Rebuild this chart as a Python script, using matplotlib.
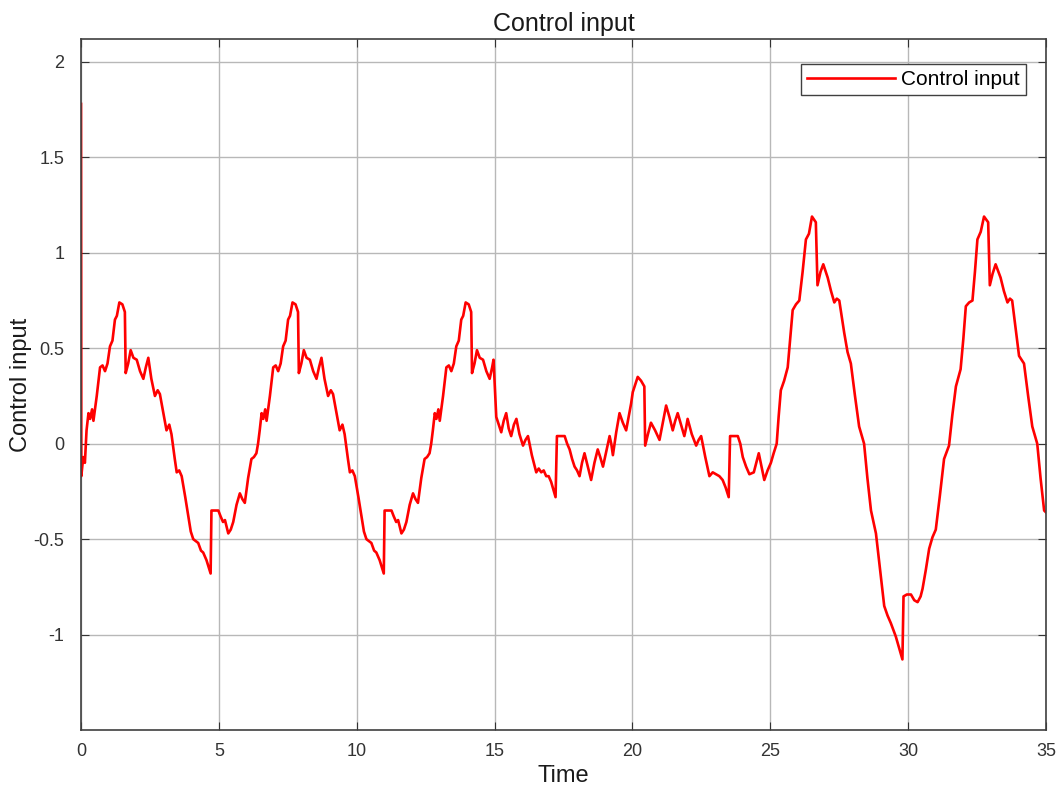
#!/usr/bin/env python3

from matplotlib import pyplot as plt

plt.rcParams['font.family'] = ['Liberation Sans', 'DejaVu Sans']

# Time samples.
t = [
    0.00, 0.01, 0.08, 0.14, 0.20, 0.27, 0.33, 0.40, 0.45, 0.57, 0.69, 0.78,
    0.87, 0.96, 1.05, 1.14, 1.23, 1.30, 1.39, 1.50, 1.59, 1.62, 1.71, 1.80,
    1.90, 2.02, 2.14, 2.26, 2.35, 2.44, 2.55, 2.68, 2.78, 2.86, 3.00, 3.10,
    3.20, 3.28, 3.40, 3.47, 3.56, 3.65, 3.78, 3.89, 3.98, 4.07, 4.16, 4.25,
    4.35, 4.43, 4.55, 4.70, 4.73, 4.85, 4.98, 5.06, 5.15, 5.22, 5.34, 5.43,
    5.52, 5.64, 5.76, 5.85, 5.94, 6.06, 6.18, 6.27,
    6.36, 6.42, 6.48, 6.55, 6.61, 6.68, 6.73, 6.85, 6.97, 7.06, 7.15, 7.24,
    7.33, 7.42, 7.51, 7.58, 7.67, 7.78, 7.87, 7.90, 7.99, 8.08, 8.18, 8.30,
    8.42, 8.54, 8.63, 8.72, 8.83, 8.96, 9.06, 9.14, 9.28, 9.38, 9.48, 9.56,
    9.68, 9.75, 9.84, 9.93, 10.06, 10.17, 10.26, 10.35, 10.44, 10.53, 10.63,
    10.71, 10.83, 10.98, 11.01, 11.13, 11.26, 11.34, 11.43, 11.50, 11.62,
    11.71, 11.80, 11.92, 12.04, 12.13, 12.22, 12.34, 12.46, 12.55,
    12.64, 12.70, 12.76, 12.83, 12.89, 12.96, 13.01, 13.13, 13.25, 13.34,
    13.43, 13.52, 13.61, 13.70, 13.79, 13.86, 13.95, 14.06, 14.15, 14.18,
    14.27, 14.36, 14.46, 14.58, 14.70, 14.82, 14.91, 14.96,
    15.06, 15.15, 15.24, 15.33, 15.42, 15.51, 15.60, 15.70, 15.79, 15.90,
    16.03, 16.12, 16.21, 16.35, 16.51, 16.60, 16.69, 16.78, 16.87, 16.96,
    17.05, 17.21, 17.26, 17.40, 17.54, 17.63, 17.72, 17.81, 17.90, 17.99,
    18.08, 18.17, 18.26, 18.38, 18.50, 18.62, 18.74, 18.83, 18.93, 19.05,
    19.17, 19.23, 19.29, 19.41, 19.53, 19.65, 19.77, 19.86, 19.95, 20.01,
    20.10, 20.19, 20.31, 20.43, 20.46, 20.56, 20.67, 20.82, 20.98, 21.10,
    21.22, 21.34, 21.46, 21.55, 21.64, 21.76, 21.88, 21.94, 22.00, 22.15,
    22.31, 22.40, 22.49, 22.64, 22.79, 22.91, 23.03, 23.15, 23.27, 23.38,
    23.49, 23.54, 23.68, 23.82, 23.91, 24.00, 24.12, 24.24, 24.40, 24.58,
    24.68, 24.78, 24.90, 25.02, 25.12, 25.23,
    25.30, 25.38, 25.50, 25.63, 25.72, 25.81, 25.93, 26.05, 26.17, 26.29,
    26.40, 26.51, 26.65, 26.71, 26.82, 26.92, 27.08, 27.20, 27.32, 27.41,
    27.50, 27.68, 27.80, 27.92, 28.07, 28.22, 28.40, 28.52, 28.65, 28.83,
    28.98, 29.13, 29.25, 29.37, 29.55, 29.67, 29.79, 29.83, 29.95, 30.10,
    30.22, 30.34, 30.45, 30.52, 30.64, 30.76, 30.88, 31.00, 31.15, 31.30,
    31.48, 31.60, 31.73, 31.90, 32.00, 32.09, 32.21, 32.33, 32.42, 32.51,
    32.63, 32.75, 32.90, 32.96, 33.06, 33.17, 33.35, 33.47, 33.60, 33.69,
    33.77, 33.90, 34.02, 34.20, 34.35, 34.50, 34.68, 34.80, 34.93, 35.00,
]

# Control input values at those times.
u = [
    1.78, -0.17, -0.07, -0.10, 0.07, 0.16, 0.13, 0.18, 0.12, 0.25, 0.40, 0.41,
    0.38, 0.42, 0.51, 0.54, 0.65, 0.67, 0.74, 0.73, 0.69, 0.37, 0.42, 0.49,
    0.45, 0.44, 0.38, 0.34, 0.40, 0.45, 0.34, 0.25, 0.28, 0.26, 0.15, 0.07,
    0.10, 0.05, -0.08, -0.15, -0.14, -0.17, -0.28, -0.38, -0.46, -0.50, -0.51,
    -0.52, -0.56, -0.57, -0.61, -0.68, -0.35, -0.35, -0.35, -0.38, -0.41,
    -0.40, -0.47, -0.45, -0.41, -0.32, -0.26, -0.29, -0.31, -0.18, -0.08,
    -0.07,
    -0.05, 0.00, 0.07, 0.16, 0.13, 0.18, 0.12, 0.25, 0.40, 0.41, 0.38, 0.42,
    0.51, 0.54, 0.65, 0.67, 0.74, 0.73, 0.69, 0.37, 0.42, 0.49, 0.45, 0.44,
    0.38, 0.34, 0.40, 0.45, 0.34, 0.25, 0.28, 0.26, 0.15, 0.07, 0.10, 0.05,
    -0.08, -0.15, -0.14, -0.17, -0.28, -0.38, -0.46, -0.50, -0.51, -0.52,
    -0.56, -0.57, -0.61, -0.68, -0.35, -0.35, -0.35, -0.38, -0.41, -0.40,
    -0.47, -0.45, -0.41, -0.32, -0.26, -0.29, -0.31, -0.18, -0.08, -0.07,
    -0.05, 0.00, 0.07, 0.16, 0.13, 0.18, 0.12, 0.25, 0.40, 0.41,
    0.38, 0.42, 0.51, 0.54, 0.65, 0.67, 0.74, 0.73, 0.69, 0.37,
    0.42, 0.49, 0.45, 0.44, 0.38, 0.34, 0.40, 0.44,
    0.14, 0.10, 0.06, 0.12, 0.16, 0.08, 0.04, 0.10, 0.13, 0.05,
    -0.01, 0.02, 0.04, -0.06, -0.15, -0.13, -0.15, -0.14, -0.17, -0.17,
    -0.20, -0.28, 0.04, 0.04, 0.04, 0.00, -0.03, -0.08, -0.12, -0.14,
    -0.17, -0.10, -0.05, -0.12, -0.19, -0.10, -0.03, -0.07, -0.12, -0.04,
    0.04, 0.00, -0.06, 0.06, 0.16, 0.11, 0.07, 0.14, 0.21, 0.27,
    0.31, 0.35, 0.33, 0.30, -0.01, 0.05, 0.11, 0.07, 0.02, 0.11,
    0.20, 0.14, 0.07, 0.12, 0.16, 0.10, 0.04, 0.08, 0.13, 0.05,
    -0.01, 0.02, 0.04, -0.07, -0.17, -0.15, -0.16, -0.17, -0.19, -0.23,
    -0.28, 0.04, 0.04, 0.04, 0.00, -0.07, -0.12, -0.16, -0.15, -0.05,
    -0.12, -0.19, -0.14, -0.10, -0.05, 0.00,
    0.14, 0.28, 0.33, 0.40, 0.55, 0.70, 0.73, 0.75, 0.90, 1.07,
    1.10, 1.19, 1.16, 0.83, 0.90, 0.94, 0.87, 0.80, 0.74, 0.76,
    0.75, 0.58, 0.48, 0.42, 0.25, 0.09, 0.00, -0.18, -0.35, -0.47,
    -0.66, -0.85, -0.90, -0.94, -1.01, -1.07, -1.13, -0.80, -0.79, -0.79,
    -0.82, -0.83, -0.80, -0.76, -0.66, -0.55, -0.49, -0.45, -0.27, -0.08,
    -0.01, 0.15, 0.30, 0.39, 0.55, 0.72, 0.74, 0.75, 0.90, 1.07,
    1.11, 1.19, 1.16, 0.83, 0.89, 0.94, 0.87, 0.80, 0.74, 0.76,
    0.75, 0.60, 0.46, 0.42, 0.25, 0.09, 0.00, -0.18, -0.35, -0.36,
]

xticks = [0, 5, 10, 15, 20, 25, 30, 35]
yticks = [-1, -0.5, 0, 0.5, 1, 1.5, 2]
yticklabels = ['-1', '-0.5', '0', '0.5', '1', '1.5', '2']

fig = plt.figure(figsize=(10.62, 7.9), dpi=100)
ax = fig.add_axes([0.0763, 0.0759, 0.9087, 0.8747])

ax.plot(t, u, color='#ff0000', linewidth=1.9, label='Control input')

ax.set_xlim(0, 35)
ax.set_ylim(-1.5, 2.12)
ax.set_xticks(xticks)
ax.set_yticks(yticks)
ax.set_yticklabels(yticklabels)

ax.grid(True, color='#b8b8b8', linewidth=1.0)
ax.set_axisbelow(True)
ax.tick_params(direction='in', top=True, right=True, length=6,
               labelsize=13, colors='#333333')
ax.tick_params(axis='y', pad=12)
ax.tick_params(axis='x', pad=9)
for s in ax.spines.values():
    s.set_color('#404040')
    s.set_linewidth(1.2)

ax.set_title('Control input', fontsize=18, color='#1a1a1a', pad=6)
ax.set_xlabel('Time', fontsize=17, color='#1a1a1a', labelpad=4)
ax.set_ylabel('Control input', fontsize=17, color='#1a1a1a')
ax.yaxis.set_label_coords(-0.051, 0.5)

leg = ax.legend(loc='upper right', bbox_to_anchor=(0.979, 0.964),
                fontsize=15, fancybox=False, framealpha=1,
                edgecolor='#404040', handlelength=4.2, borderpad=0.3,
                handletextpad=0.3, borderaxespad=0)
leg.get_frame().set_linewidth(1.0)

fig.savefig('out.png', dpi=100)
